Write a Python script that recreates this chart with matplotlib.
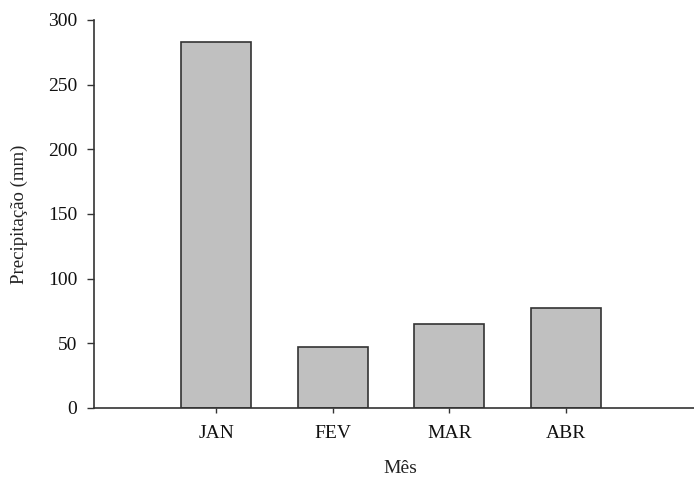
import matplotlib.pyplot as plt

# Data
meses = ["JAN", "FEV", "MAR", "ABR"]
precipitacao = [283, 47, 65, 77]

plt.rcParams["font.family"] = "Liberation Serif"

fig = plt.figure(figsize=(6.94, 4.78), dpi=100)
ax = fig.add_axes([94 / 694, 1 - 408 / 478, 1 - 94 / 694, 388 / 478])

x = list(range(len(meses)))
ax.bar(x, precipitacao, width=0.6, color="#c0c0c0", edgecolor="#333333", linewidth=1.2)

ax.set_xlim(-1.05, 4.1)
ax.set_ylim(0, 300)
ax.set_yticks([0, 50, 100, 150, 200, 250, 300])
ax.set_xticks(x)
ax.set_xticklabels(meses)

for s in ["top", "right"]:
    ax.spines[s].set_visible(False)
for s in ["left", "bottom"]:
    ax.spines[s].set_color("#333333")
    ax.spines[s].set_linewidth(1.2)

ax.tick_params(axis="y", direction="out", length=5, width=1, color="#333333",
               pad=7, labelsize=14, labelcolor="#111111")
ax.tick_params(axis="x", direction="out", length=3.6, width=1, color="#333333",
               pad=9, labelsize=14, labelcolor="#111111")

ax.set_ylabel("Precipitação (mm)", fontsize=13.5, color="#222222")
ax.set_xlabel("Mês", fontsize=14, color="#222222")
ax.yaxis.set_label_coords(-0.11, 0.5)
ax.xaxis.set_label_coords(0.51, -0.133)

fig.savefig("out.png", dpi=100)
